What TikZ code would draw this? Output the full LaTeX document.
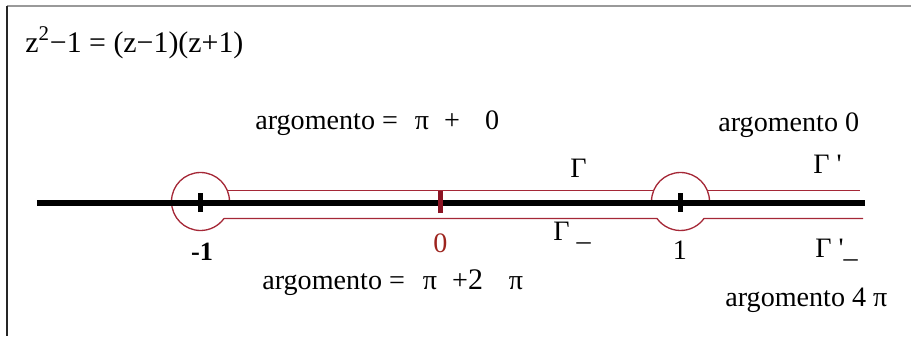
\documentclass[tikz,border=0pt]{standalone}
\usepackage{fontspec}
\setmainfont{Liberation Serif}
\definecolor{contour}{RGB}{165, 40, 55}
\definecolor{origin}{RGB}{140, 20, 35}

\begin{document}
\begin{tikzpicture}[
    font=\fontsize{16}{19}\selectfont,
    cut/.style={contour, line width=0.75pt},
    lbl/.style={anchor=base west, inner sep=0pt},
]

\def\xa{4.8}    % abscissa of 1
\def\rc{0.58}   % radius of the detours
\def\yc{0.03}   % height of their centres
\def\yu{0.246}  % upper edge of the cut
\def\yl{-0.31}  % lower edge of the cut

\useasboundingbox (-8.81,-2.66) rectangle (9.41,4.06);

% --- Frame ---
\draw[gray!80, line width=0.8pt] (-8.67,3.94) -- (9.41,3.94);
\draw[gray!30!black, line width=0.8pt] (-8.67,3.94) -- (-8.67,-2.66);

% --- Factorisation ---
\node[lbl, font=\fontsize{17}{20}\selectfont] (factor) at (-8.31,3.02)
    {z\textsuperscript{2}−1 = (z−1)(z+1)};

% --- Contour: circle round -1 ---
\draw[cut] (-\xa+\rc,\yc) arc[start angle=0, end angle=324.1, radius=\rc];

% --- Contour: upper edge (Gamma, Gamma') ---
\draw[cut] (-4.262,\yu) -- (4.262,\yu);
\draw[cut] (\xa+\rc,\yc) arc[start angle=0, end angle=180, radius=\rc];
\draw[cut] (5.338,\yu) -- (8.39,\yu);

% --- Contour: lower edge (Gamma_, Gamma'_) ---
\draw[cut] (-4.33,\yl) -- (4.33,\yl)
    arc[start angle=215.9, end angle=324.1, radius=\rc] -- (8.45,\yl);

% --- Real axis ---
\draw[black, line width=3.2pt] (-8.07,0) -- (8.49,0);
\foreach \x in {-\xa, \xa} {
    \draw[black, line width=2.4pt] (\x,-0.18) -- (\x,0.2);
}
\draw[origin, line width=2.6pt] (0,-0.2) -- (0,0.25);

% --- Points ---
\node[anchor=base, font=\fontsize{15}{18}\selectfont\bfseries] (minus one) at (-4.77,-1.14) {-1};
\node[anchor=base, text=origin!85!orange] (zero) at (0,-0.98) {0};
\node[anchor=base, font=\fontsize{16}{18}\selectfont] (one) at (4.79,-1.12) {1};

% --- Edges ---
\node[lbl] (gamma) at (2.59,0.52) {Γ};
\node[lbl] (gamma p) at (7.45,0.6) {Γ \textquotesingle};
\node[lbl] (gamma m) at (2.25,-0.74) {Γ \_};
\node[lbl] (gamma pm) at (7.49,-1.08) {Γ \textquotesingle\_};

% --- Arguments ---
\node[lbl] (arg up) at (-3.71,1.48)
    {argomento =\hspace{0.34cm}π\hspace{0.3cm}+\hspace{0.5cm}0};
\node[lbl] (arg down) at (-3.57,-1.72)
    {argomento =\hspace{0.36cm}π\hspace{0.3cm}+{\fontsize{17}{19}\selectfont 2}\hspace{0.52cm}π};
\node[lbl] (arg zero) at (5.55,1.44) {argomento 0};
\node[lbl] (arg four) at (5.69,-2.06) {argomento 4 π};

\end{tikzpicture}
\end{document}
